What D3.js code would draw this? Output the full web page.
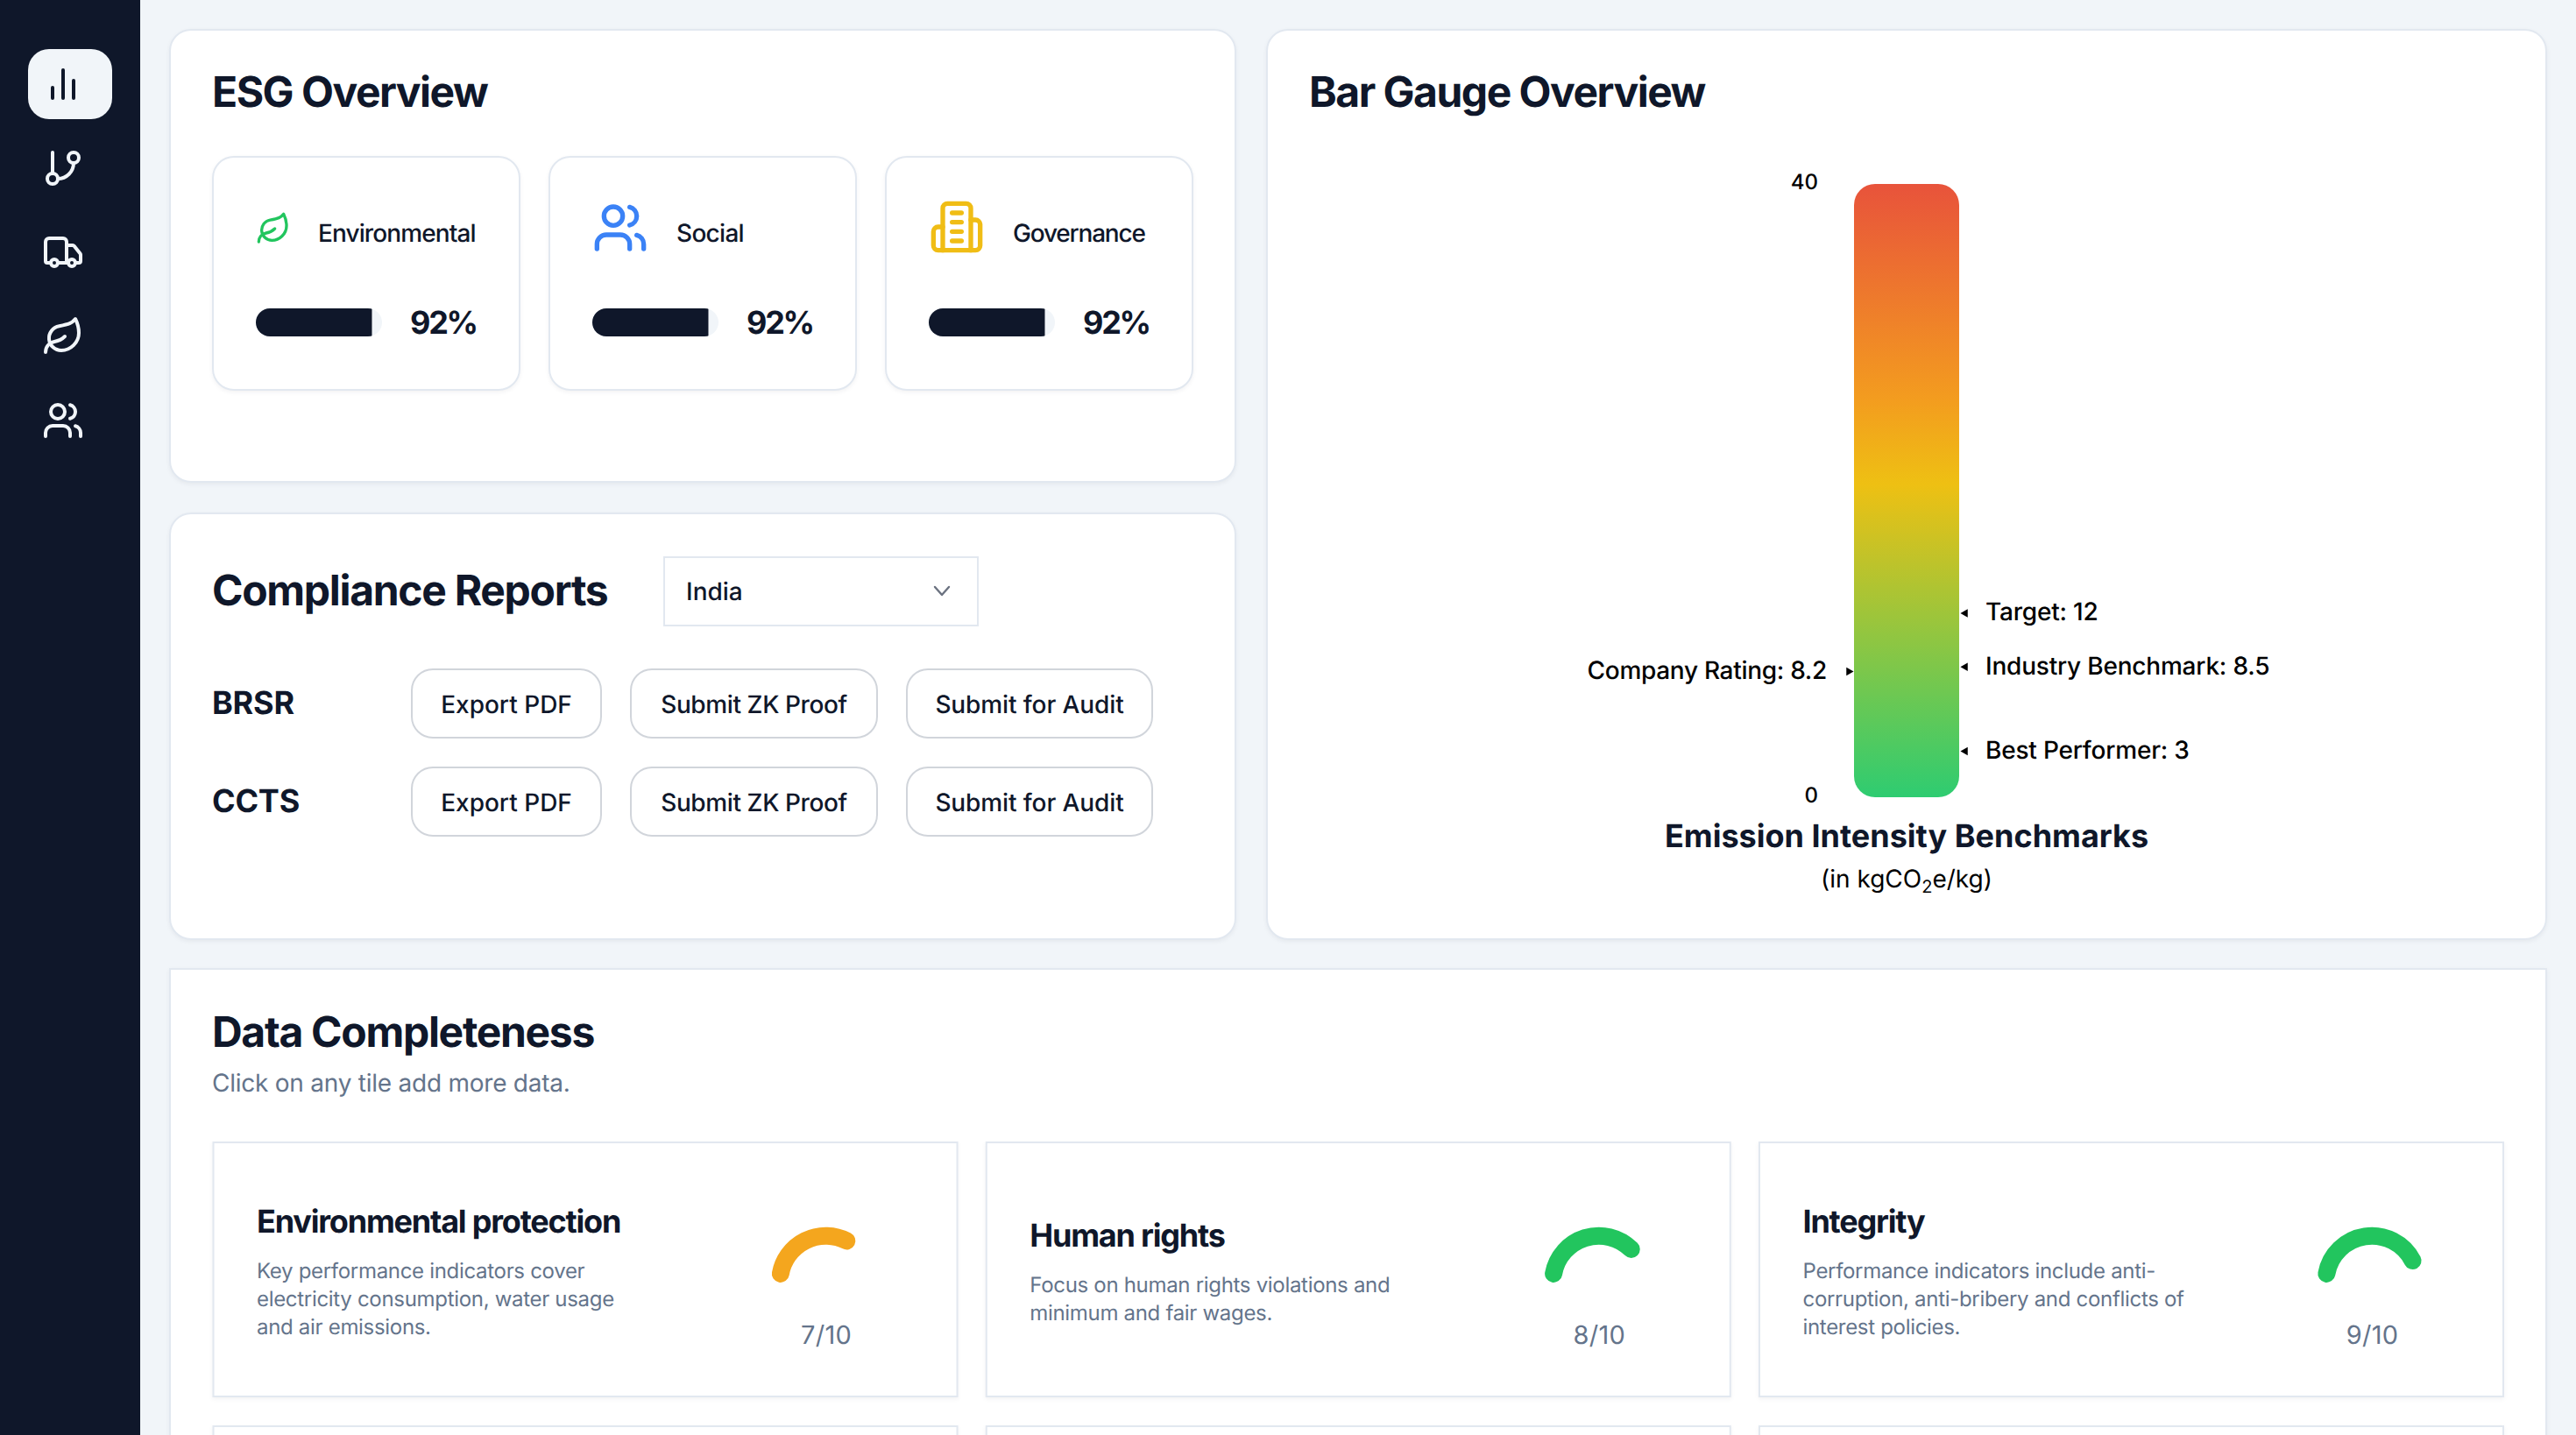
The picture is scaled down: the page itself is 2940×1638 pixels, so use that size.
<!DOCTYPE html>
<html>
<head>
<meta charset="utf-8">
<title>ESG Dashboard</title>
<script src="https://cdn.jsdelivr.net/npm/d3@7"></script>
<style>
    html, body { margin: 0; padding: 0; background: #f1f5f9; overflow: hidden; }
    svg { display: block; }
    text { font-family: Inter, "Noto Sans", sans-serif; text-rendering: geometricPrecision; }
    .card { filter: drop-shadow(0 2px 2px rgba(15, 23, 42, 0.05)); }
</style>
</head>
<body>
<div id="page"></div>
<script>

// ESG tiles
var esgCategories = ["Environmental", "Social", "Governance"];
var esgValues = [92, 92, 92];

// Compliance reports
var countryName = "India";
var reportNames = ["BRSR", "CCTS"];
var reportActions = ["Export PDF", "Submit ZK Proof", "Submit for Audit"];

// Bar gauge
var gaugeTicks = [0, 40];
var rightLabels = ["Target", "Industry Benchmark", "Best Performer"];
var rightValues = [12, 8.5, 3];
var leftLabels = ["Company Rating"];
var leftValues = [8.2];

// Data completeness
var tileTitles = ["Environmental protection", "Human rights", "Integrity"];
var tileScores = [7, 8, 9];
var tileMax = 10;
var tileDescriptions = [
    ["Key performance indicators cover", "electricity consumption, water usage", "and air emissions."],
    ["Focus on human rights violations and", "minimum and fair wages."],
    ["Performance indicators include anti-", "corruption, anti-bribery and conflicts of", "interest policies."]
];

// Lucide style icon shapes, 24 unit box
var iconPaths = {
    chart: ["M18 20V10", "M12 20V4", "M6 20v-6"],
    branch: ["M6 3v12", "M18 9a3 3 0 1 0 0-6 3 3 0 0 0 0 6z", "M6 21a3 3 0 1 0 0-6 3 3 0 0 0 0 6z", "M18 9a9 9 0 0 1-9 9"],
    truck: ["M14 18V6a2 2 0 0 0-2-2H4a2 2 0 0 0-2 2v11a1 1 0 0 0 1 1h2", "M15 18H9",
        "M19 18h2a1 1 0 0 0 1-1v-3.65a1 1 0 0 0-.22-.624l-3.48-4.35A1 1 0 0 0 17.52 8H14",
        "M17 20a2 2 0 1 0 0-4 2 2 0 0 0 0 4z", "M7 20a2 2 0 1 0 0-4 2 2 0 0 0 0 4z"],
    leaf: ["M11 20A7 7 0 0 1 9.8 6.1C15.5 5 17 4.48 19 2c1 2 2 4.18 2 8 0 5.5-4.78 10-10 10Z",
        "M2 21c0-3 1.85-5.36 5.08-6C9.5 14.52 12 13 13 12"],
    users: ["M16 21v-2a4 4 0 0 0-4-4H6a4 4 0 0 0-4 4v2", "M9 11a4 4 0 1 0 0-8 4 4 0 0 0 0 8z",
        "M22 21v-2a4 4 0 0 0-3-3.87", "M16 3.13a4 4 0 0 1 0 7.75"],
    building: ["M6 22V4a2 2 0 0 1 2-2h8a2 2 0 0 1 2 2v18Z", "M6 12H4a2 2 0 0 0-2 2v6a2 2 0 0 0 2 2h2",
        "M18 9h2a2 2 0 0 1 2 2v9a2 2 0 0 1-2 2h-2", "M10 6h4", "M10 10h4", "M10 14h4", "M10 18h4"]
};

var INK = "#0f172a";
var MUTED = "#64748b";
var BORDER = "#e2e8f0";

var svg = d3.select("#page").append("svg")
    .attr("width", 2940)
    .attr("height", 1638);

svg.append("rect").attr("width", 2940).attr("height", 1638).attr("fill", "#f1f5f9");

// Add a piece of text
function addText(parent, x, y, string, size, weight, color, anchor, spacing) {
    return parent.append("text")
        .attr("x", x)
        .attr("y", y)
        .attr("font-size", size)
        .attr("font-weight", weight)
        .attr("fill", color)
        .attr("text-anchor", anchor || "start")
        .attr("letter-spacing", spacing || 0)
        .text(string);
}

// Add a bordered box
function addBox(parent, x, y, w, h, radius, stroke, cls) {
    return parent.append("rect")
        .attr("class", cls || null)
        .attr("x", x + 1)
        .attr("y", y + 1)
        .attr("width", w - 2)
        .attr("height", h - 2)
        .attr("rx", radius)
        .attr("fill", "#fff")
        .attr("stroke", stroke)
        .attr("stroke-width", 2);
}

// Draw an icon from the shapes above
function addIcon(parent, name, x, y, size, color) {
    var scale = size / 24;
    var icon = parent.append("g")
        .attr("transform", "translate(" + x + "," + y + ") scale(" + scale + ")")
        .attr("fill", "none")
        .attr("stroke", color)
        .attr("stroke-width", 2)
        .attr("stroke-linecap", "round")
        .attr("stroke-linejoin", "round");
    icon.selectAll("path").data(iconPaths[name]).enter().append("path").attr("d", function(d) { return d; });
}

/* Sidebar */
svg.append("rect").attr("width", 160).attr("height", 1638).attr("fill", INK);
svg.append("rect").attr("x", 32).attr("y", 56).attr("width", 96).attr("height", 80).attr("rx", 24).attr("fill", "#f1f5f9");

var sideIcons = ["chart", "branch", "truck", "leaf", "users"];
for (var i = 0; i < sideIcons.length; i++) {
    addIcon(svg, sideIcons[i], 48, 72 + i * 96, 48, i == 0 ? INK : "#f1f5f9");
}

/* Cards */
addBox(svg, 193, 33, 1218, 518, 24, BORDER, "card");
addBox(svg, 193, 585, 1218, 488, 24, BORDER, "card");
addBox(svg, 1445, 33, 1462, 1040, 24, BORDER, "card");
addBox(svg, 193, 1105, 2714, 620, 0, BORDER, "card");

var TITLE_SIZE = 48, TITLE_TRACK = -1.5;
addText(svg, 242, 122, "ESG Overview", TITLE_SIZE, 700, INK, "start", TITLE_TRACK);
addText(svg, 1494, 122, "Bar Gauge Overview", TITLE_SIZE, 700, INK, "start", TITLE_TRACK);
addText(svg, 242, 690.5, "Compliance Reports", TITLE_SIZE, 700, INK, "start", -1.3);
addText(svg, 242, 1195, "Data Completeness", TITLE_SIZE, 700, INK, "start", -1.3);

/* ESG tiles */
var esgIcons = [
    { name: "leaf", dx: 50, dy: 63, size: 40, color: "#22c55e" },
    { name: "users", dx: 50, dy: 50, size: 64, color: "#3b82f6" },
    { name: "building", dx: 50, dy: 49, size: 64, color: "#f0bd15" }
];
var esgLabelX = [363, 772, 1156];
var esgLabelTrack = [-0.9, -0.7, -1.2];
var esgTileX = d3.scaleLinear().domain([0, 2]).range([242, 1010]);
var progress = d3.scaleLinear().domain([0, 100]).range([0, 144]);

esgCategories.forEach(function(category, i) {
    var x = esgTileX(i);
    addBox(svg, x, 178, 352, 268, 24, BORDER, "card");
    addIcon(svg, esgIcons[i].name, x + esgIcons[i].dx, 178 + esgIcons[i].dy, esgIcons[i].size, esgIcons[i].color);
    addText(svg, esgLabelX[i], 276, category, 28, 500, INK, "start", esgLabelTrack[i]);

    // Progress bar, fill is clipped by the rounded track
    var clipId = "track" + i;
    svg.append("clipPath").attr("id", clipId).append("rect")
        .attr("x", x + 50).attr("y", 352).attr("width", progress(100)).attr("height", 32).attr("rx", 16);
    svg.append("rect").attr("x", x + 50).attr("y", 352).attr("width", progress(100)).attr("height", 32).attr("rx", 16).attr("fill", "#f1f5f9");
    svg.append("rect").attr("x", x + 50).attr("y", 352).attr("width", progress(esgValues[i])).attr("height", 32)
        .attr("fill", INK).attr("clip-path", "url(#" + clipId + ")");

    addText(svg, x + 302, 381, esgValues[i] + "%", 36, 700, INK, "end", -2.2);
});

/* Compliance reports */
svg.append("rect").attr("x", 758).attr("y", 636).attr("width", 358).attr("height", 78)
    .attr("fill", "#fff").attr("stroke", BORDER).attr("stroke-width", 2);
addText(svg, 783, 685, countryName, 28, 500, INK);
svg.append("path").attr("d", "M1067 670l8 9 8-9").attr("fill", "none")
    .attr("stroke", "#6b7280").attr("stroke-width", 2.4).attr("stroke-linecap", "round").attr("stroke-linejoin", "round");

var buttonX = [469, 719, 1034];
var buttonW = [218, 283, 282];
var buttonY = [763, 875];
var buttonTrack = [0, -0.4, -0.1];

reportNames.forEach(function(report, r) {
    addText(svg, 242, buttonY[r] + 52, report, 36, 700, INK, "start", -0.2);
    reportActions.forEach(function(action, a) {
        addBox(svg, buttonX[a], buttonY[r], buttonW[a], 80, 24, "#d1d5db");
        addText(svg, buttonX[a] + buttonW[a] / 2, buttonY[r] + 51, action, 28, 500, INK, "middle", buttonTrack[a]);
    });
});

/* Bar gauge */
var BAR_X = 2116, BAR_W = 120;
var gaugeY = d3.scaleLinear().domain([0, 40]).range([910, 210]);

var gradient = svg.append("defs").append("linearGradient")
    .attr("id", "gaugeFill").attr("x1", 0).attr("y1", 0).attr("x2", 0).attr("y2", 1);
gradient.append("stop").attr("offset", "0%").attr("stop-color", "#e8533b");
gradient.append("stop").attr("offset", "35%").attr("stop-color", "#f39c1f");
gradient.append("stop").attr("offset", "49%").attr("stop-color", "#eec013");
gradient.append("stop").attr("offset", "100%").attr("stop-color", "#2ecc71");

svg.append("rect")
    .attr("x", BAR_X)
    .attr("y", gaugeY(40))
    .attr("width", BAR_W)
    .attr("height", gaugeY(0) - gaugeY(40))
    .attr("rx", 24)
    .attr("fill", "url(#gaugeFill)");

var gaugeAxis = svg.append("g")
    .attr("transform", "translate(" + BAR_X + ",0)")
    .call(d3.axisLeft(gaugeY).tickValues(gaugeTicks).tickSize(0).tickPadding(41));
gaugeAxis.select(".domain").remove();
gaugeAxis.selectAll("text")
    .attr("dy", "0.23em")
    .attr("font-size", 24)
    .attr("font-weight", 500)
    .attr("fill", "#000")
    .attr("font-family", "Inter");

var markerShape = d3.symbol().type(d3.symbolTriangle).size(40);

// Right hand benchmarks
svg.selectAll(".right-marker").data(rightValues).enter().append("path")
    .attr("class", "right-marker")
    .attr("d", markerShape)
    .attr("fill", "#000")
    .attr("transform", function(d) { return "translate(" + (BAR_X + BAR_W + 7) + "," + gaugeY(d) + ") rotate(-90)"; });

svg.selectAll(".right-label").data(rightValues).enter().append("text")
    .attr("class", "right-label")
    .attr("x", 2266)
    .attr("y", function(d) { return gaugeY(d) + 8.4; })
    .attr("font-size", 28)
    .attr("font-weight", 500)
    .attr("fill", "#000")
    .attr("letter-spacing", -0.2)
    .text(function(d, i) { return rightLabels[i] + ": " + d; });

// Left hand rating
svg.selectAll(".left-marker").data(leftValues).enter().append("path")
    .attr("class", "left-marker")
    .attr("d", markerShape)
    .attr("fill", "#000")
    .attr("transform", function(d) { return "translate(" + (BAR_X - 6) + "," + gaugeY(d) + ") rotate(90)"; });

svg.selectAll(".left-label").data(leftValues).enter().append("text")
    .attr("class", "left-label")
    .attr("x", 2085)
    .attr("y", function(d) { return gaugeY(d) + 8.6; })
    .attr("text-anchor", "end")
    .attr("font-size", 28)
    .attr("font-weight", 500)
    .attr("fill", "#000")
    .attr("letter-spacing", -0.3)
    .text(function(d, i) { return leftLabels[i] + ": " + d; });

addText(svg, BAR_X + BAR_W / 2, 966.5, "Emission Intensity Benchmarks", 36, 700, INK, "middle");

var unitText = addText(svg, BAR_X + BAR_W / 2, 1013, "(in kgCO", 28, 400, "#000", "middle");
unitText.append("tspan").attr("font-size", 20).attr("dy", 6).text("2");
unitText.append("tspan").attr("dy", -6).text("e/kg)");

/* Data completeness */
addText(svg, 242, 1246, "Click on any tile add more data.", 28, 400, MUTED, "start", -0.24);

var tileX = d3.scaleLinear().domain([0, 2]).range([242.5, 2007]);
var gaugeAngle = d3.scaleLinear().domain([0, 10]).range([-97.6, 80.4]);
var gaugeColor = d3.scaleThreshold().domain([8]).range(["#f4a61e", "#22c55e"]);

function scoreArc(cx, cy, radius, score) {
    // Angles count clockwise from twelve o'clock, canvas arcs from three o'clock
    var toRadians = function(a) { return (a - 90) * Math.PI / 180; };
    var p = d3.path();
    p.arc(cx, cy, radius, toRadians(gaugeAngle(1)), toRadians(gaugeAngle(score)));
    return p.toString();
}

tileTitles.forEach(function(title, i) {
    var x = tileX(i);
    var lines = tileDescriptions[i];
    var top = lines.length == 3 ? 0 : 16;

    addBox(svg, x, 1303, 851, 292, 0, BORDER, "card");
    addBox(svg, x, 1627, 851, 120, 0, BORDER, "card");

    addText(svg, x + 50.5, 1407 + top, title, 36, 700, INK, "start", -1.2);
    lines.forEach(function(line, l) {
        addText(svg, x + 50.5, 1459 + top + l * 32, line, 24, 400, MUTED, "start", -0.31);
    });

    svg.append("path")
        .attr("d", scoreArc(x + 700, 1463.2, 52.5, tileScores[i]))
        .attr("fill", "none")
        .attr("stroke", gaugeColor(tileScores[i]))
        .attr("stroke-width", 20)
        .attr("stroke-linecap", "round");

    addText(svg, x + 700.5, 1534, tileScores[i] + "/" + tileMax, 29, 400, MUTED, "middle", 0.3);
});

</script>
</body>
</html>
